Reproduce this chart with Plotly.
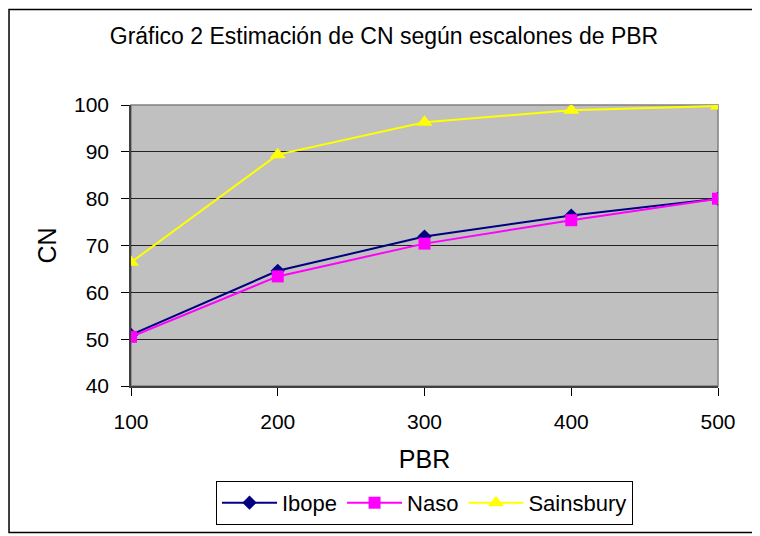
import plotly.graph_objects as go

pbr = [100, 200, 300, 400, 500]
ibope = [50.9, 64.6, 71.9, 76.4, 80.0]
naso = [50.5, 63.4, 70.4, 75.4, 80.0]
sainsbury = [66.4, 89.4, 96.3, 98.9, 99.8]

fig = go.Figure()

fig.add_trace(go.Scatter(
    x=pbr, y=ibope, mode='lines+markers', name='Ibope',
    line=dict(color='#000080', width=2),
    marker=dict(symbol='diamond', size=11, color='#000080'),
))
fig.add_trace(go.Scatter(
    x=pbr, y=naso, mode='lines+markers', name='Naso',
    line=dict(color='#FF00FF', width=2),
    marker=dict(symbol='square', size=12, color='#FF00FF'),
))
fig.add_trace(go.Scatter(
    x=pbr, y=sainsbury, mode='lines+markers', name='Sainsbury',
    line=dict(color='#FFFF00', width=2),
    marker=dict(symbol='triangle-up', size=14, color='#FFFF00'),
))

# outer chart border
fig.add_shape(type='rect', xref='paper', yref='paper',
              x0=-0.2078, x1=1.0613, y0=-0.521, y1=1.340,
              line=dict(color='black', width=1.5), layer='below')
# plot area frame (top/right gray)
fig.add_shape(type='rect', xref='paper', yref='paper',
              x0=0, x1=1, y0=0, y1=1,
              line=dict(color='#808080', width=1.5), layer='below')

# page body has an 8px margin, so the figure is 752x528
fig.update_layout(
    width=752, height=528,
    margin=dict(l=123, r=42, t=97, b=149),
    paper_bgcolor='white',
    plot_bgcolor='#C0C0C0',
    font=dict(family='Liberation Sans, Arial', size=21, color='black'),
    title=dict(text='Gráfico 2 Estimación de CN según escalones de PBR',
               x=0.5, xanchor='center', y=0.947, yanchor='middle',
               font=dict(size=23)),
    xaxis=dict(
        title=dict(text='PBR', standoff=19),
        range=[100, 500], tickvals=pbr, showgrid=False, zeroline=False,
        showline=True, linecolor='#404040', linewidth=1.5,
        ticks='outside', ticklen=8, tickcolor='black', tickwidth=1,
        ticklabelstandoff=8,
    ),
    yaxis=dict(
        title=dict(text='CN', standoff=10),
        range=[40, 100], dtick=10, showgrid=True, gridcolor='#222222', gridwidth=1,
        zeroline=False, showline=True, linecolor='#404040', linewidth=1.5,
        ticks='outside', ticklen=8, tickcolor='black', tickwidth=1,
        ticklabelstandoff=8,
    ),
    showlegend=True,
    legend=dict(
        orientation='h', x=0.5, xanchor='center', y=-0.333, yanchor='top',
        bordercolor='black', borderwidth=1, bgcolor='white',
        font=dict(size=22), itemwidth=55,
    ),
)

fig.write_html("out.html")
